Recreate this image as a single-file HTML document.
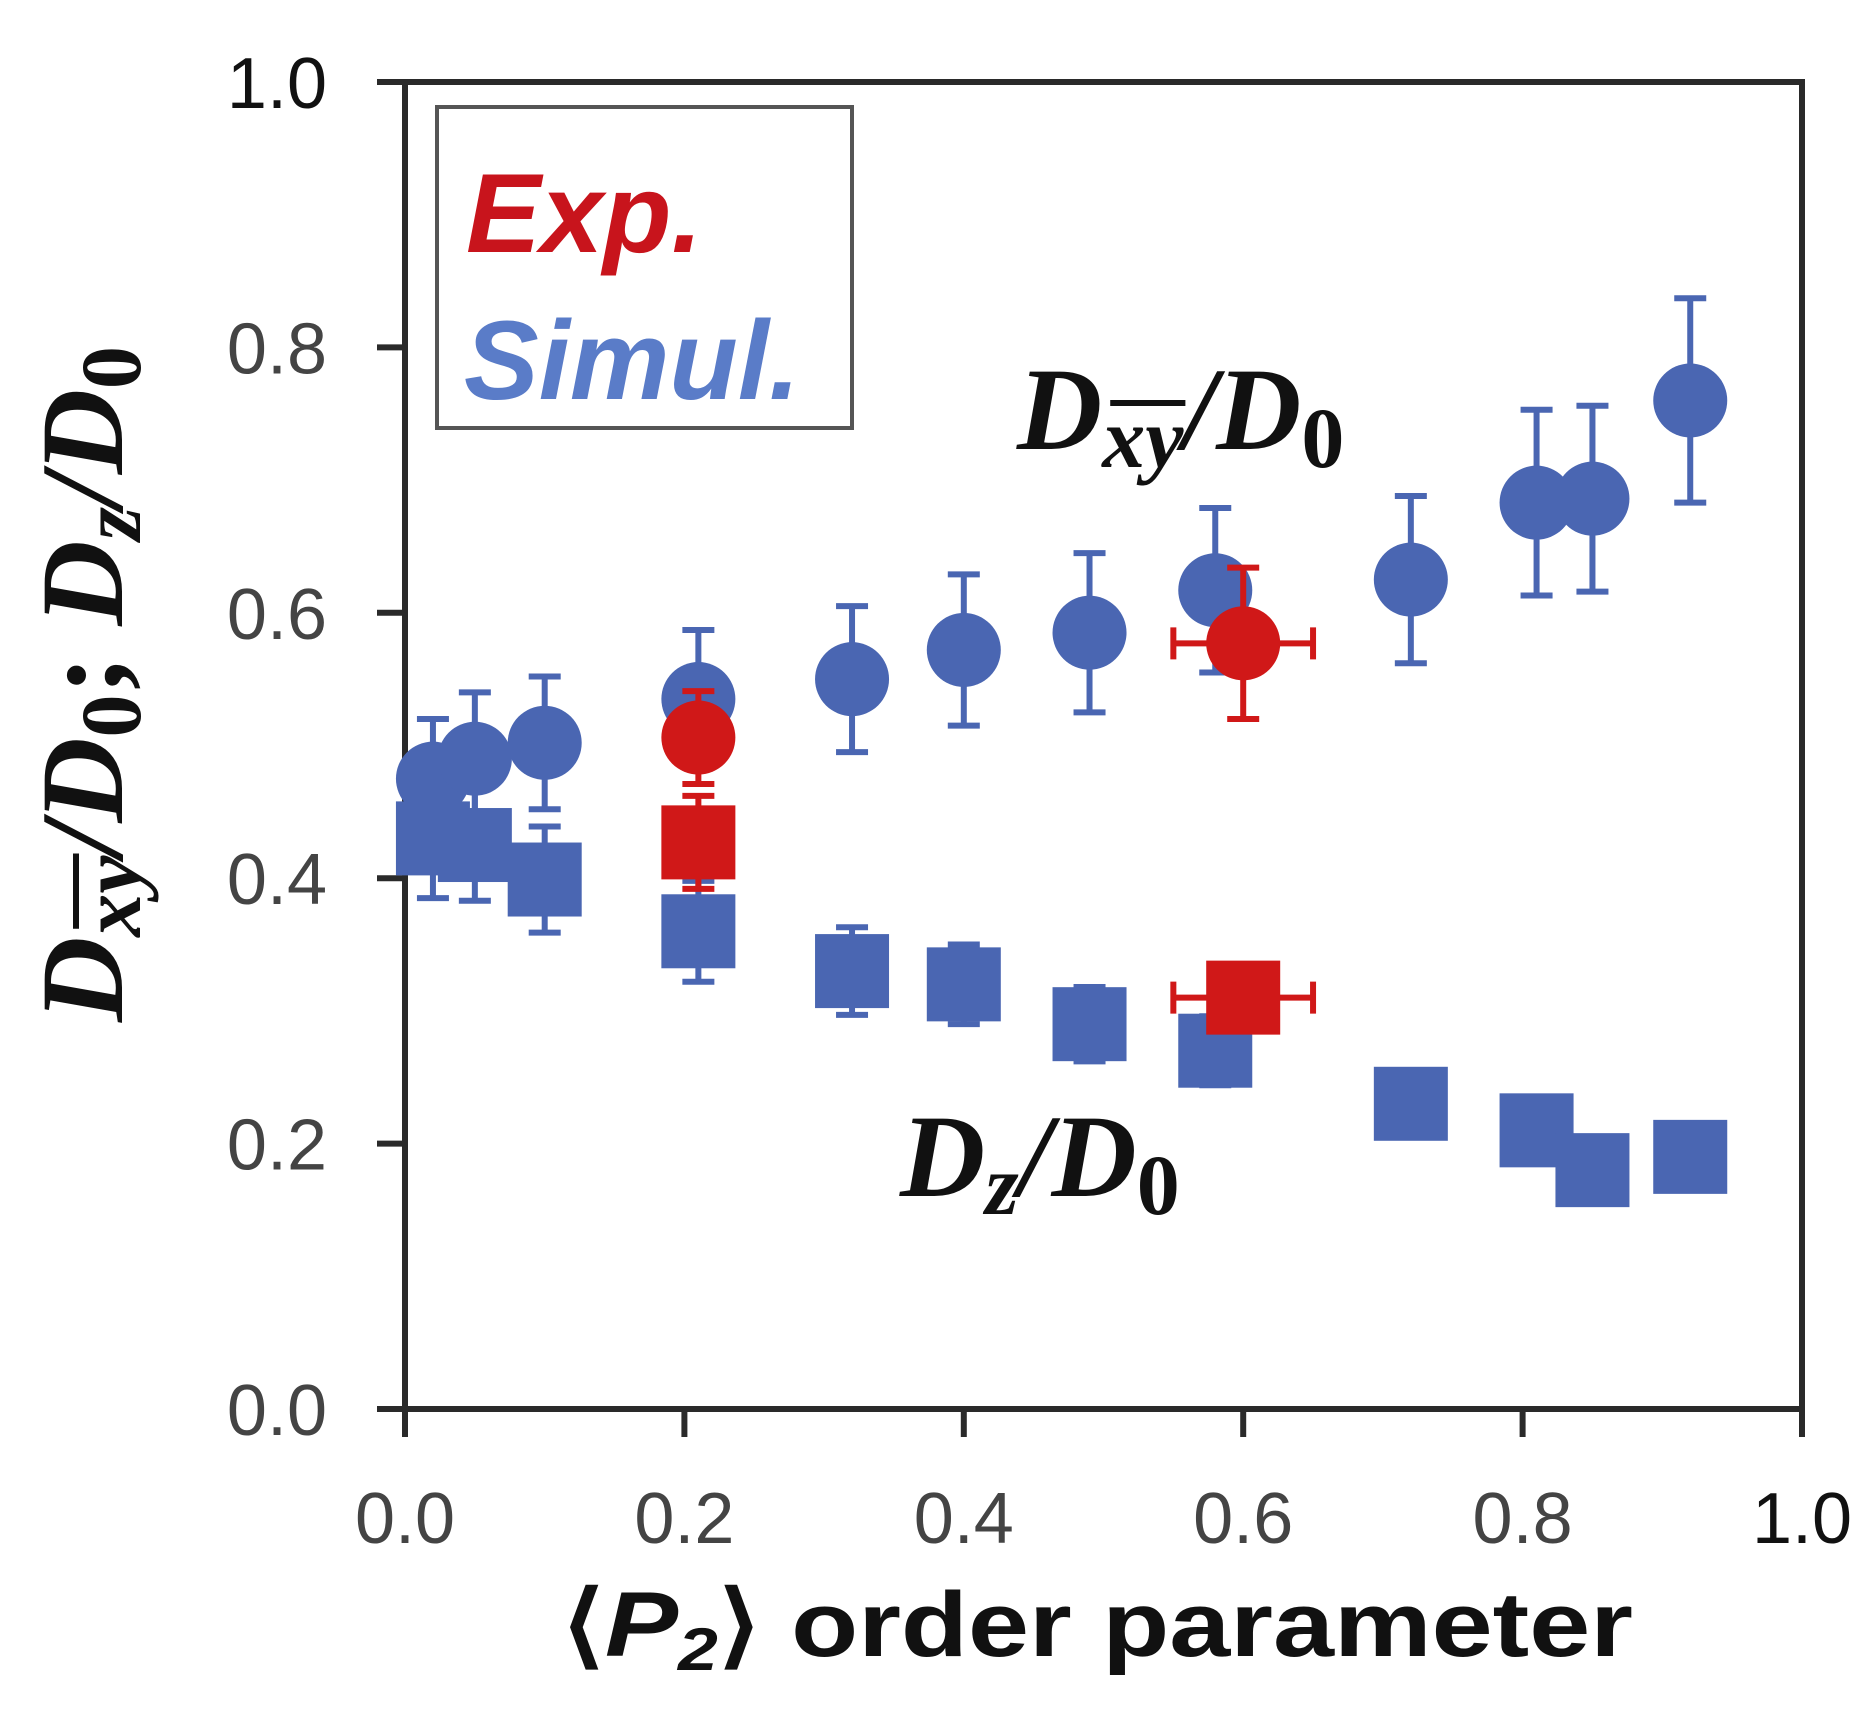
<!DOCTYPE html>
<html><head><meta charset="utf-8"><style>
html,body{margin:0;padding:0;background:#fff;}
svg{display:block;}
</style></head><body>
<svg id="chart" width="1875" height="1717" xmlns="http://www.w3.org/2000/svg">
<g id="marks"></g>
</svg>
<script>
const simX = [0.02, 0.05, 0.10, 0.21, 0.32, 0.40, 0.49, 0.58, 0.72, 0.81, 0.85, 0.92];
const simXY = [0.475, 0.49, 0.502, 0.535, 0.55, 0.572, 0.585, 0.617, 0.625, 0.683, 0.686, 0.76];
const simXYErr = [0.045, 0.05, 0.05, 0.052, 0.055, 0.057, 0.06, 0.062, 0.063, 0.07, 0.07, 0.077];
const simZ = [0.43, 0.425, 0.399, 0.36, 0.33, 0.32, 0.29, 0.27, 0.23, 0.21, 0.18, 0.19];
const simZErr = [0.045, 0.042, 0.04, 0.038, 0.033, 0.03, 0.028, 0.026, 0.023, 0.021, 0.018, 0.019];
const expX = [0.21, 0.60];
const expXErr = [0, 0.05];
const expXY = [0.506, 0.577];
const expXYErr = [0.035, 0.057];
const expZ = [0.427, 0.31];
const expZErr = [0.035, 0.012];
const tickVals = [0, 0.2, 0.4, 0.6, 0.8, 1.0];
const tickLabels = ["0.0", "0.2", "0.4", "0.6", "0.8", "1.0"];

const L=405, R=1802, T=82, B=1409;
const sx = v => L + v*(R-L);
const sy = v => B - v*(B-T);
const NS="http://www.w3.org/2000/svg";
const svg=document.getElementById('chart');
function mk(tag, attrs, parent){const e=document.createElementNS(NS,tag);for(const k in attrs)e.setAttribute(k,attrs[k]);(parent||svg).appendChild(e);return e;}

const frame=mk('rect',{x:L,y:T,width:R-L,height:B-T,fill:'none',stroke:'#2a2a2a',"stroke-width":6});



tickVals.forEach((v,i)=>{
  const xt=mk('line',{x1:sx(v),x2:sx(v),y1:B,y2:B+28,stroke:'#2a2a2a',"stroke-width":6});
  
  
  const yt=mk('line',{x1:L-28,x2:L,y1:sy(v),y2:sy(v),stroke:'#2a2a2a',"stroke-width":6});
  
  
  const xl=mk('text',{x:sx(v),y:1543,"text-anchor":"middle","font-family":"Liberation Sans, sans-serif","font-size":72,fill:i==5?'#111':'#444'});
  xl.textContent=tickLabels[i];
  
  
  const yl=mk('text',{x:327,y:sy(v)+26,"text-anchor":"end","font-family":"Liberation Sans, sans-serif","font-size":72,fill:i==5?'#111':'#444'});
  yl.textContent=tickLabels[i];
  
  
});

const BLUE='#4a66b2', RED='#d01818';
function errV(x,y,e,col){
  if(e<=0)return;
  const l=mk('line',{x1:sx(x),x2:sx(x),y1:sy(y-e),y2:sy(y+e),stroke:col,"stroke-width":6});
  
  
  [y-e,y+e].forEach(yy=>{const c=mk('line',{x1:sx(x)-16,x2:sx(x)+16,y1:sy(yy),y2:sy(yy),stroke:col,"stroke-width":6});
  
  });
}
function errH(x,y,e,col){
  if(e<=0)return;
  const l=mk('line',{x1:sx(x-e),x2:sx(x+e),y1:sy(y),y2:sy(y),stroke:col,"stroke-width":6});
  
  
  [x-e,x+e].forEach(xx=>{const c=mk('line',{x1:sx(xx),x2:sx(xx),y1:sy(y)-16,y2:sy(y)+16,stroke:col,"stroke-width":6});
  
  });
}
const S=74;
simX.forEach((x,i)=>{errV(x,simXY[i],simXYErr[i],BLUE);errV(x,simZ[i],simZErr[i],BLUE);});
simX.forEach((x,i)=>{
  const c=mk('circle',{cx:sx(x),cy:sy(simXY[i]),r:S/2,fill:BLUE});
  
  
  const s=mk('rect',{x:sx(x)-S/2,y:sy(simZ[i])-S/2,width:S,height:S,fill:BLUE});
  
  
});
expX.forEach((x,i)=>{
  errV(x,expXY[i],expXYErr[i],RED);errH(x,expXY[i],expXErr[i],RED);
  errV(x,expZ[i],expZErr[i],RED);errH(x,expZ[i],expXErr[i],RED);
  const c=mk('circle',{cx:sx(x),cy:sy(expXY[i]),r:S/2,fill:RED});
  
  
  const s=mk('rect',{x:sx(x)-S/2,y:sy(expZ[i])-S/2,width:S,height:S,fill:RED});
  
  
});
</script>
<svg id="labels" width="1875" height="1717" style="position:absolute;left:0;top:0" xmlns="http://www.w3.org/2000/svg">
<g>
<rect x="437" y="107" width="415" height="321" fill="none" stroke="#555" stroke-width="4"/>
<text x="466" y="252" font-family="Liberation Sans, sans-serif" font-weight="bold" font-style="italic" font-size="112" fill="#c8141c">Exp.</text>
<text x="464" y="399" font-family="Liberation Sans, sans-serif" font-weight="bold" font-style="italic" font-size="112" fill="#5a7cc8">Simul.</text>
</g>
<g>
<text x="1017" y="449" font-family="Liberation Serif, serif" font-weight="bold" font-style="italic" font-size="118" fill="#111">D<tspan class="ov" font-size="86" dy="18">xy</tspan><tspan dy="-18">/D</tspan><tspan font-size="86" dy="18" font-style="normal">0</tspan></text>
</g>
<g>
<text x="900" y="1196" font-family="Liberation Serif, serif" font-weight="bold" font-style="italic" font-size="118" fill="#111">D<tspan font-size="86" dy="18">z</tspan><tspan dy="-18">/D</tspan><tspan font-size="86" dy="18" font-style="normal">0</tspan></text>
</g>
<g transform="translate(122,684) rotate(-90)">
<text x="0" y="0" text-anchor="middle" font-family="Liberation Serif, serif" font-weight="bold" font-style="italic" font-size="118" fill="#111">D<tspan class="ov" font-size="86" dy="18">xy</tspan><tspan dy="-18">/D</tspan><tspan font-size="86" dy="18" font-style="normal">0</tspan><tspan dy="-18" font-style="normal">; </tspan><tspan>D</tspan><tspan font-size="86" dy="18">z</tspan><tspan dy="-18">/D</tspan><tspan font-size="86" dy="18" font-style="normal">0</tspan></text>
</g>
<text x="562" y="1656" textLength="1071" lengthAdjust="spacingAndGlyphs" font-family="Liberation Sans, sans-serif" font-weight="bold" font-size="92" fill="#111">⟨<tspan font-style="italic">P</tspan><tspan font-size="60" dy="14" font-style="italic">2</tspan><tspan dy="-14">⟩ order parameter</tspan></text>
</svg>
<script>
document.querySelectorAll('#labels tspan.ov').forEach(ts=>{
  const txt=ts.parentNode;
  const full=txt.textContent;
  const idx=full.indexOf(ts.textContent);
  const a=txt.getStartPositionOfChar(idx), b=txt.getEndPositionOfChar(idx+ts.textContent.length-1);
  const ln=document.createElementNS("http://www.w3.org/2000/svg",'line');
  ln.setAttribute('x1',a.x+8);ln.setAttribute('x2',b.x+2);
  ln.setAttribute('y1',a.y-64);ln.setAttribute('y2',a.y-64);
  ln.setAttribute('stroke','#111');ln.setAttribute('stroke-width',6);
  
  
  txt.parentNode.appendChild(ln);
});
</script>
</body></html>
